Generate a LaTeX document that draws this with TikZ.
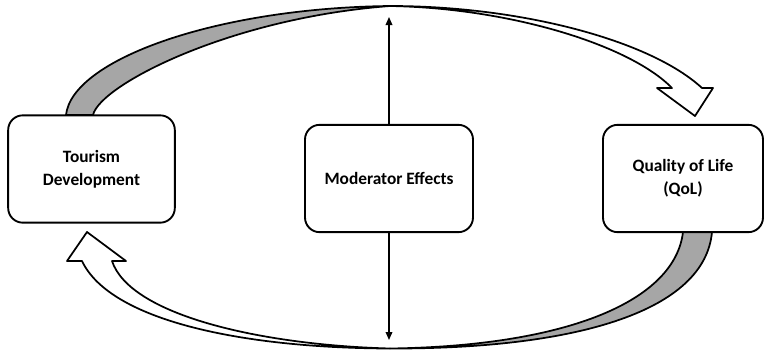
\documentclass[tikz,border=0pt]{standalone}
\usepackage{fontspec}
\setmainfont{Carlito}
\usetikzlibrary{arrows.meta,positioning}
\definecolor{Ink}{HTML}{000000}
\definecolor{Band}{HTML}{A6A6A6}

\begin{document}
\begin{tikzpicture}[x=0.75pt,y=-0.75pt,
  box/.style={draw=Ink,line width=1.4pt,rounded corners=11pt,fill=white,align=center,
    font=\bfseries\fontsize{13}{17}\selectfont,minimum height=80.5pt},
  band/.style={draw=Ink,line width=1.3pt,line join=round}]
  \useasboundingbox (0,0) rectangle (765,351);
  % upper loop, back face then front face with head
  \filldraw[band,fill=Band] (66,115) .. controls (72,60) and (215,8) .. (390,6)
    .. controls (230,18) and (100,85) .. (93,115) -- cycle;
  \filldraw[band,fill=white] (390,6) .. controls (520,6) and (650,40) .. (702,88)
    -- (713,88) -- (695,116) -- (657,88) -- (672,88)
    .. controls (630,45) and (510,8) .. (390,6) -- cycle;
  % lower loop
  \filldraw[band,fill=Band] (712,232) .. controls (705,310) and (580,349) .. (390,348.5)
    .. controls (570,346) and (675,300) .. (683,232) -- cycle;
  \filldraw[band,fill=white] (390,348.5) .. controls (240,348) and (110,320) .. (82,261)
    -- (67,261) -- (87,232) -- (126,261) -- (112,261)
    .. controls (130,315) and (260,345) .. (390,348.5) -- cycle;
  % boxes
  \node[box,minimum width=125pt] (tour) at (91.5,169) {Tourism\\Development};
  \node[box,minimum width=126pt] (mod) at (389,178.5) {Moderator Effects};
  \node[box,minimum width=120pt] (qol) at (683,178.5) {Quality of Life\\(QoL)};
  % moderator arrows
  \coordinate (uptip) at (389,17);
  \coordinate (downtip) at (389,340);
  \draw[line width=1pt,-{Triangle[length=6pt,width=5pt]}] (mod.north) -- (uptip);
  \draw[line width=1pt,-{Triangle[length=6pt,width=5pt]}] (mod.south) -- (downtip);
\end{tikzpicture}
\end{document}
